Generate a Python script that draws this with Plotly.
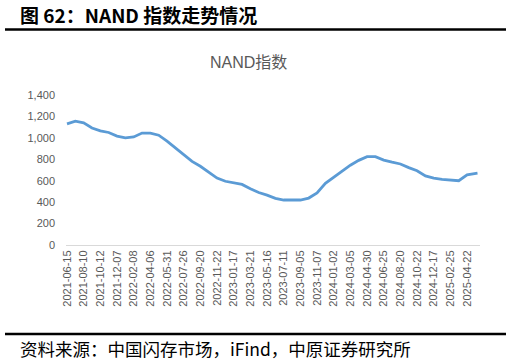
import plotly.graph_objects as go

# Data. The source is weekly; x is the week
# index on the category axis, sampled every 4 weeks.
week_index = list(range(0, 193, 4)) + [196, 197]
values = [1130, 1155, 1140, 1092, 1065, 1050, 1017, 1000, 1008, 1045,
          1045, 1025, 970, 905, 840, 780, 735, 680, 625, 595,
          582, 565, 525, 490, 465, 436, 420, 420, 420, 438,
          485, 575, 630, 685, 745, 790, 824, 824, 792, 773,
          756, 722, 693, 645, 625, 613, 604, 600, 655, 668, 670]

tick_labels = ["2021-06-15", "2021-08-10", "2021-10-12", "2021-12-07", "2022-02-08",
               "2022-04-06", "2022-05-31", "2022-07-26", "2022-09-20", "2022-11-22",
               "2023-01-17", "2023-03-21", "2023-05-16", "2023-07-11", "2023-09-05",
               "2023-11-07", "2024-01-02", "2024-03-05", "2024-04-30", "2024-06-25",
               "2024-08-20", "2024-10-22", "2024-12-17", "2025-02-25", "2025-04-22"]
tick_pos = [8 * i for i in range(len(tick_labels))]
y_ticks = [0, 200, 400, 600, 800, 1000, 1200, 1400]

W, H = 510, 361
L, R, T, B = 66, 480, 95, 245

def px(x):
    return (x - L) / (R - L)

def py(y):
    return (B - y) / (B - T)

fig = go.Figure()
fig.add_trace(go.Scatter(
    x=week_index, y=values, mode="lines",
    line=dict(color="#5b9bd5", width=2.8),
    hoverinfo="skip", showlegend=False,
))

grey = "#595959"
fig.update_layout(
    width=W, height=H,
    margin=dict(l=L, r=W - R, t=T, b=H - B),
    paper_bgcolor="white", plot_bgcolor="white",
    separators=".,",
    font=dict(family="Liberation Sans, Arial, sans-serif", color=grey, size=11),
    xaxis=dict(
        range=[-0.48, 198.2],
        tickvals=tick_pos, ticktext=tick_labels,
        tickangle=-90,
        showgrid=False, zeroline=False,
        showline=True, linecolor="#d9d9d9", linewidth=1,
        ticks="", tickfont=dict(size=11, color=grey),
    ),
    yaxis=dict(
        range=[0, 1400], tickvals=y_ticks, tickformat=",d",
        showgrid=False, zeroline=False, showline=False,
        ticks="", ticklabelstandoff=10,
        tickfont=dict(size=11, color=grey),
    ),
    shapes=[
        dict(type="line", xref="paper", yref="paper",
             x0=px(5), x1=px(506), y0=py(29.5), y1=py(29.5),
             line=dict(color="black", width=2.5)),
        dict(type="line", xref="paper", yref="paper",
             x0=px(5), x1=px(506), y0=py(334), y1=py(334),
             line=dict(color="black", width=2.5)),
    ],
    annotations=[
        dict(text="<b>图 62：NAND 指数走势情况</b>", xref="paper", yref="paper",
             x=px(18), y=py(15), xanchor="left", yanchor="middle", showarrow=False,
             font=dict(family="Noto Sans CJK SC", size=19, color="black")),
        dict(text="NAND指数", xref="paper", yref="paper",
             x=px(248), y=py(62), xanchor="center", yanchor="middle", showarrow=False,
             font=dict(family="Liberation Sans, Noto Sans CJK SC", size=16, color=grey)),
        dict(text="资料来源：中国闪存市场，iFind，中原证券研究所", xref="paper", yref="paper",
             x=px(18), y=py(348), xanchor="left", yanchor="middle", showarrow=False,
             font=dict(family="Noto Sans CJK SC", size=17.5, color="black")),
    ],
)

fig.write_html("out.html")
